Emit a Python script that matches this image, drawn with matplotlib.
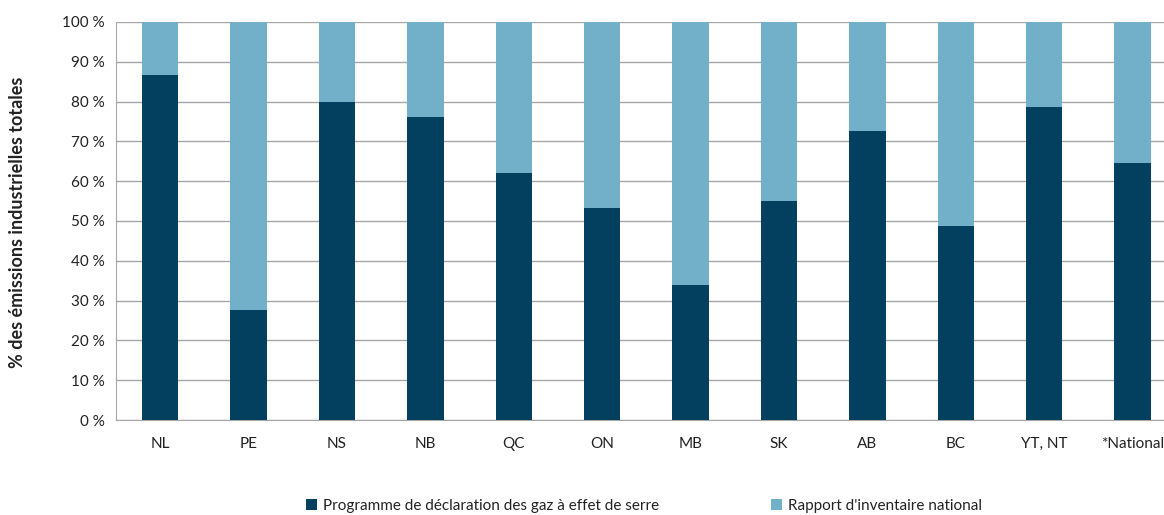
import matplotlib
matplotlib.use("Agg")
import matplotlib.pyplot as plt
import numpy as np

plt.rcParams['font.family'] = ['Lato', 'DejaVu Sans']

categories = ["NL", "PE", "NS", "NB", "QC", "ON", "MB", "SK", "AB", "BC", "YT, NT", "*National"]
pdges = [86.7, 27.6, 79.9, 76.1, 62.1, 53.3, 33.9, 55.0, 72.6, 48.7, 78.6, 64.6]
rin = [100 - v for v in pdges]
yticks = list(range(0, 101, 10))
series_labels = ["Programme de déclaration des gaz à effet de serre", "Rapport d'inventaire national"]

dark = "#03405F"
light = "#72AFC8"

fig = plt.figure(figsize=(11.64, 5.15), dpi=100)
ax = fig.add_axes([116 / 1164, 1 - 420 / 515, 12 * 88.4 / 1164, 398 / 515])

x = np.arange(len(categories))
b1 = ax.bar(x, pdges, width=0.41, color=dark, zorder=3, label=series_labels[0])
b2 = ax.bar(x, rin, bottom=pdges, width=0.41, color=light, zorder=3, label=series_labels[1])

ax.set_xlim(-0.5, len(categories) - 0.5)
ax.set_ylim(0, 100)
ax.set_yticks(yticks)
ax.set_yticklabels([f"{t} %" for t in yticks], fontsize=11, color="#222222")
ax.set_xticks(x)
ax.set_xticklabels(categories, fontsize=11, color="#222222")
ax.tick_params(axis='both', length=0)
ax.tick_params(axis='x', pad=12)
ax.tick_params(axis='y', pad=8)
ax.grid(axis='y', color="#A6A6A6", linewidth=1, zorder=0)
for s in ["top", "right"]:
    ax.spines[s].set_visible(False)
ax.spines["left"].set_color("#A6A6A6")
ax.spines["bottom"].set_color("#A6A6A6")

fig.text(18 / 1164, 1 - 222 / 515, "% des émissions industrielles totales", rotation=90,
         ha="center", va="center", fontsize=13, fontweight="bold", color="#222222")

fig.legend(handles=[b1, b2], labels=series_labels, loc="center", bbox_to_anchor=(644 / 1164, 1 - 506 / 515),
           ncol=2, frameon=False, fontsize=11, handlelength=0.7, handleheight=0.7,
           handletextpad=0.4, columnspacing=7.3, labelcolor="#222222")

fig.savefig("out.png", dpi=100)
